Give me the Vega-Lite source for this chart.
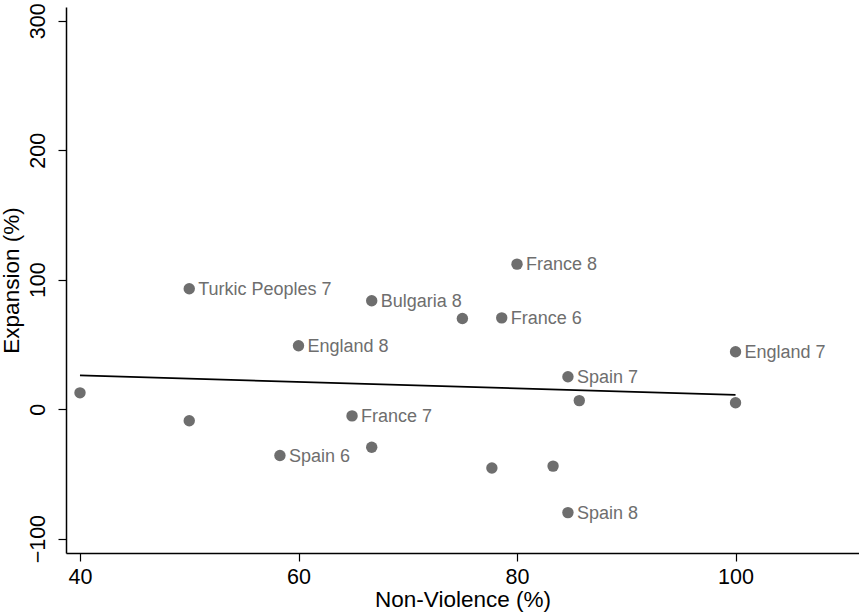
{
  "$schema": "https://vega.github.io/schema/vega-lite/v6.json",
  "width": 793,
  "height": 546,
  "autosize": {"type": "none"},
  "padding": {"left": 66, "top": 7, "right": 0, "bottom": 61},
  "background": "white",
  "config": {
    "view": {"stroke": null},
    "font": "Liberation Sans",
    "axis": {
      "grid": false,
      "domainColor": "black",
      "domainWidth": 1.5,
      "tickColor": "black",
      "tickWidth": 1.2,
      "tickSize": 8,
      "labelFont": "Liberation Sans",
      "labelFontSize": 21.5,
      "labelColor": "black",
      "titleFont": "Liberation Sans",
      "titleFontSize": 22.5,
      "titleFontWeight": "normal",
      "titleColor": "black"
    }
  },
  "data": {
    "values": [
      {"nv": 40, "exp": 12.6, "label": ""},
      {"nv": 50, "exp": -9, "label": ""},
      {"nv": 50, "exp": 93, "label": "Turkic Peoples 7"},
      {"nv": 58.3, "exp": -35.8, "label": "Spain 6"},
      {"nv": 60, "exp": 49, "label": "England 8"},
      {"nv": 64.9, "exp": -5.2, "label": "France 7"},
      {"nv": 66.7, "exp": 83.7, "label": "Bulgaria 8"},
      {"nv": 66.7, "exp": -29.4, "label": ""},
      {"nv": 75, "exp": 70, "label": ""},
      {"nv": 77.7, "exp": -45.4, "label": ""},
      {"nv": 80, "exp": 112, "label": "France 8"},
      {"nv": 78.6, "exp": 70.5, "label": "France 6"},
      {"nv": 83.3, "exp": -44, "label": ""},
      {"nv": 84.66, "exp": 25, "label": "Spain 7"},
      {"nv": 85.7, "exp": 6.6, "label": ""},
      {"nv": 100, "exp": 44.3, "label": "England 7"},
      {"nv": 100, "exp": 4.9, "label": ""},
      {"nv": 84.66, "exp": -79.9, "label": "Spain 8"}
    ]
  },
  "encoding": {
    "x": {
      "field": "nv",
      "type": "quantitative",
      "scale": {"domain": [38.72, 111.3], "nice": false, "zero": false},
      "axis": {"values": [40, 60, 80, 100], "title": "Non-Violence (%)", "labelPadding": 5, "titlePadding": 1}
    },
    "y": {
      "field": "exp",
      "type": "quantitative",
      "scale": {"domain": [-111.1, 310.6], "nice": false, "zero": false},
      "axis": {"values": [-100, 0, 100, 200, 300], "title": "Expansion (%)", "labelAngle": -90, "labelAlign": "center", "labelBaseline": "bottom", "labelPadding": 9, "titlePadding": 4}
    }
  },
  "layer": [
    {
      "mark": {"type": "circle", "size": 130, "color": "#6e6e6e", "opacity": 1}
    },
    {
      "transform": [{"filter": "datum.label != ''"}],
      "mark": {"type": "text", "align": "left", "baseline": "middle", "dx": 9, "dy": 1, "fontSize": 18, "color": "#6e6e6e", "font": "Liberation Sans"},
      "encoding": {"text": {"field": "label"}}
    },
    {
      "transform": [{"regression": "exp", "on": "nv"}],
      "mark": {"type": "line", "color": "black", "strokeWidth": 1.8},
      "encoding": {}
    }
  ]
}
